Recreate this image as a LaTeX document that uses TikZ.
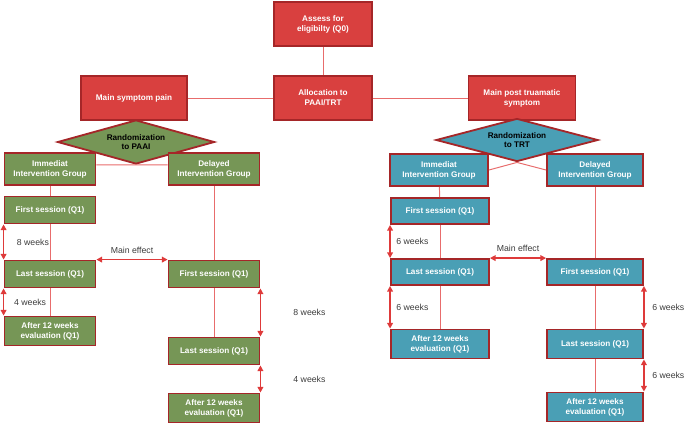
\documentclass[tikz,border=0pt]{standalone}
\usepackage{fontspec}
\setmainfont{Liberation Sans}
\usetikzlibrary{shapes.geometric,arrows.meta}
\definecolor{boxred}{RGB}{217,64,63}
\definecolor{edgered}{RGB}{165,38,40}
\definecolor{boxgreen}{RGB}{118,150,86}
\definecolor{boxblue}{RGB}{74,159,181}
\definecolor{linkred}{RGB}{232,108,108}
\definecolor{arrowred}{RGB}{222,58,58}
\definecolor{labelgray}{RGB}{60,60,60}

\begin{document}
\begin{tikzpicture}[x=0.025cm,y=-0.025cm,>={Triangle[length=4pt,width=4pt]},
    box/.style={draw=edgered,line width=1.3pt,text=white,align=center,inner sep=0pt,
        font=\fontsize{5.8}{7}\selectfont\bfseries},
    redbox/.style={box,fill=boxred,minimum width=2.45cm,minimum height=1.1cm},
    greenbox/.style={box,fill=boxgreen,minimum width=2.275cm},
    bluebox/.style={box,fill=boxblue,minimum width=2.45cm},
    rnd/.style={diamond,aspect=3.6,draw=edgered,line width=1.3pt,inner sep=0pt,align=center,
        font=\fontsize{5.8}{7}\selectfont\bfseries},
    link/.style={linkred,line width=0.7pt},
    span/.style={<->,arrowred,line width=1pt},
    lbl/.style={text=labelgray,font=\fontsize{6.2}{7.4}\selectfont,inner sep=0pt}]
    \useasboundingbox (0,0) rectangle (685,424);

    % top of the flow
    \node[redbox] (assess) at (323,24) {Assess for\\eligibilty (Q0)};
    \node[redbox] (alloc) at (323,98) {Allocation to\\PAAI/TRT};
    \node[redbox,minimum width=2.65cm] (pain) at (134,98) {Main symptom pain};
    \node[redbox,minimum width=2.675cm] (ptsd) at (522,98) {Main post truamatic\\symptom};
    \draw[link] (assess) -- (alloc);
    \draw[link] (alloc) -- (pain);
    \draw[link] (alloc) -- (ptsd);

    % PAAI branch
    \node[rnd,fill=boxgreen,minimum width=3.925cm,minimum height=1.1cm] (rndL) at (136,142) {Randomization\\to PAAI};
    \node[greenbox,minimum height=0.8cm] (imL) at (50,169) {Immediat\\Intervention Group};
    \node[greenbox,minimum height=0.8cm] (dlL) at (214,169) {Delayed\\Intervention Group};
    \draw[link] ([yshift=3pt]imL.east) -- (rndL.south) -- ([yshift=3pt]dlL.west);

    \node[greenbox,minimum height=0.675cm] (fsL) at (50,210) {First session (Q1)};
    \node[greenbox,minimum height=0.675cm] (lsL) at (50,274) {Last session (Q1)};
    \node[greenbox,minimum height=0.725cm] (evL) at (50,331) {After 12 weeks\\evaluation (Q1)};
    \node[greenbox,minimum height=0.675cm] (fsdL) at (214,274) {First session (Q1)};
    \node[greenbox,minimum height=0.675cm] (lsdL) at (214,351) {Last session (Q1)};
    \node[greenbox,minimum height=0.725cm] (evdL) at (214,408) {After 12 weeks\\evaluation (Q1)};
    \draw[link] (imL) -- (fsL);
    \draw[link] (fsL) -- (lsL);
    \draw[link] (lsL) -- (evL);
    \draw[link] (dlL) -- (fsdL);
    \draw[link] (fsdL) -- (lsdL);

    \draw[span] (fsL.south west) -- (lsL.north west) node[lbl,midway,right=9pt] (wkL1) {8 weeks};
    \draw[span] (lsL.south west) -- (evL.north west) node[lbl,midway,right=7pt] (wkL2) {4 weeks};
    \draw[span] (fsdL.south east) -- (lsdL.north east) node[lbl,midway,right=23pt] (wkL3) {8 weeks};
    \draw[span] (lsdL.south east) -- (evdL.north east) node[lbl,midway,right=23pt] (wkL4) {4 weeks};
    \draw[span] (lsL.north east) -- (fsdL.north west) node[lbl,midway,above=4pt] (effL) {Main effect};

    % TRT branch
    \node[rnd,fill=boxblue,minimum width=4.05cm,minimum height=1.075cm] (rndR) at (517,140) {Randomization\\to TRT};
    \node[bluebox,minimum height=0.8cm] (imR) at (439,170) {Immediat\\Intervention Group};
    \node[bluebox,minimum height=0.8cm,minimum width=2.4cm] (dlR) at (595,170) {Delayed\\Intervention Group};
    \draw[link] (imR.east) -- (rndR.south) -- (dlR.west);

    \node[bluebox,minimum height=0.65cm] (fsR) at (440,211) {First session (Q1)};
    \node[bluebox,minimum height=0.65cm] (lsR) at (440,272) {Last session (Q1)};
    \node[bluebox,minimum height=0.725cm] (evR) at (440,344) {After 12 weeks\\evaluation (Q1)};
    \node[bluebox,minimum height=0.65cm,minimum width=2.4cm] (fsdR) at (595,272) {First session (Q1)};
    \node[bluebox,minimum height=0.725cm,minimum width=2.4cm] (lsdR) at (595,344) {Last session (Q1)};
    \node[bluebox,minimum height=0.725cm,minimum width=2.4cm] (evdR) at (595,407) {After 12 weeks\\evaluation (Q1)};
    \draw[link] (imR) -- (fsR);
    \draw[link] (fsR) -- (lsR);
    \draw[link] (lsR) -- (evR);
    \draw[link] (dlR) -- (fsdR);
    \draw[link] (fsdR) -- (lsdR);
    \draw[link] (lsdR) -- (evdR);

    \draw[span] (fsR.south west) -- (lsR.north west) node[lbl,midway,right=4pt] (wkR1) {6 weeks};
    \draw[span] (lsR.south west) -- (evR.north west) node[lbl,midway,right=4pt] (wkR2) {6 weeks};
    \draw[span] (fsdR.south east) -- (lsdR.north east) node[lbl,midway,right=5.5pt] (wkR3) {6 weeks};
    \draw[span] (lsdR.south east) -- (evdR.north east) node[lbl,midway,right=5.5pt] (wkR4) {6 weeks};
    \draw[span] (lsR.north east) -- (fsdR.north west) node[lbl,midway,above=4pt] (effR) {Main effect};
\end{tikzpicture}
\end{document}
